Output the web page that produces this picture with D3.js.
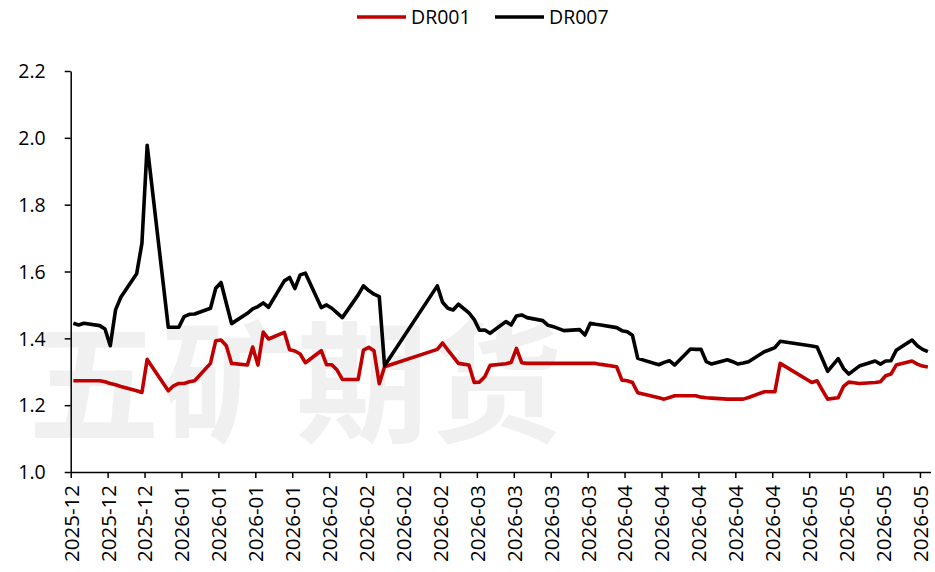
<!DOCTYPE html>
<html>
<head>
<meta charset="utf-8">
<script src="https://cdn.jsdelivr.net/npm/d3@7"></script>
<style>
  body { margin: 0; background: #fff; }
  text { font-family: "Open Sans", "Noto Sans", sans-serif; }
</style>
</head>
<body>
<div id="chartDiv"></div>
<script>
// trading days (DR001 / DR007 daily fixings)
var dates = [
  "2025-12-17","2025-12-18","2025-12-19","2025-12-22","2025-12-23","2025-12-24","2025-12-25","2025-12-26",
  "2025-12-29","2025-12-30","2025-12-31",
  "2026-01-04","2026-01-05","2026-01-06","2026-01-07","2026-01-08","2026-01-09",
  "2026-01-12","2026-01-13","2026-01-14","2026-01-15","2026-01-16",
  "2026-01-19","2026-01-20","2026-01-21","2026-01-22","2026-01-23",
  "2026-01-26","2026-01-27","2026-01-28","2026-01-29","2026-01-30",
  "2026-02-02","2026-02-03","2026-02-04","2026-02-05","2026-02-06",
  "2026-02-09","2026-02-10","2026-02-11","2026-02-12","2026-02-13","2026-02-14",
  "2026-02-24","2026-02-25","2026-02-26","2026-02-27","2026-02-28",
  "2026-03-02","2026-03-03","2026-03-04","2026-03-05","2026-03-06",
  "2026-03-09","2026-03-10","2026-03-11","2026-03-12","2026-03-13",
  "2026-03-16","2026-03-17","2026-03-18","2026-03-19","2026-03-20",
  "2026-03-23","2026-03-24","2026-03-25","2026-03-26","2026-03-27",
  "2026-03-30","2026-03-31","2026-04-01","2026-04-02","2026-04-03",
  "2026-04-07","2026-04-08","2026-04-09","2026-04-10",
  "2026-04-13","2026-04-14","2026-04-15","2026-04-16","2026-04-17",
  "2026-04-20","2026-04-21","2026-04-22","2026-04-23","2026-04-24",
  "2026-04-27","2026-04-28","2026-04-29","2026-04-30",
  "2026-05-06","2026-05-07","2026-05-08","2026-05-09",
  "2026-05-11","2026-05-12","2026-05-13","2026-05-14","2026-05-15",
  "2026-05-18","2026-05-19","2026-05-20","2026-05-21","2026-05-22",
  "2026-05-25","2026-05-26","2026-05-27","2026-05-28"
];

var dr001 = [
  1.273,1.273,1.273,1.273,1.270,1.265,1.261,1.256,
  1.243,1.238,1.337,
  1.243,1.258,1.265,1.265,1.270,1.273,
  1.325,1.393,1.395,1.378,1.325,
  1.320,1.374,1.320,1.419,1.398,
  1.418,1.366,1.362,1.353,1.327,
  1.363,1.321,1.321,1.305,1.277,
  1.277,1.365,1.373,1.363,1.264,1.315,
  1.367,1.386,1.365,1.345,1.325,
  1.320,1.268,1.269,1.285,1.319,
  1.324,1.328,1.370,1.327,1.325,
  1.325,1.325,1.325,1.325,1.325,
  1.325,1.325,1.325,1.325,1.322,
  1.315,1.275,1.273,1.268,1.237,
  1.222,1.218,1.223,1.228,
  1.228,1.228,1.224,1.222,1.221,
  1.218,1.218,1.218,1.218,1.223,
  1.240,1.240,1.240,1.325,
  1.268,1.273,1.245,1.218,
  1.222,1.256,1.269,1.267,1.265,
  1.268,1.270,1.288,1.293,1.320,
  1.332,1.323,1.317,1.314
];

var dr007 = [
  1.445,1.440,1.445,1.438,1.428,1.378,1.485,1.523,
  1.593,1.684,1.978,
  1.433,1.433,1.433,1.465,1.472,1.473,
  1.490,1.550,1.567,1.505,1.444,
  1.475,1.488,1.495,1.506,1.493,
  1.572,1.582,1.549,1.590,1.595,
  1.492,1.500,1.490,1.476,1.462,
  1.530,1.557,1.543,1.532,1.525,1.318,
  1.557,1.508,1.490,1.485,1.502,
  1.476,1.456,1.424,1.425,1.415,
  1.450,1.440,1.467,1.470,1.462,
  1.453,1.439,1.435,1.429,1.423,
  1.426,1.410,1.445,1.442,1.440,
  1.432,1.423,1.420,1.409,1.340,
  1.321,1.328,1.333,1.320,
  1.368,1.367,1.367,1.330,1.323,
  1.336,1.330,1.323,1.326,1.330,
  1.360,1.366,1.372,1.391,
  1.377,1.374,1.338,1.301,
  1.339,1.310,1.293,1.305,1.317,
  1.332,1.323,1.332,1.333,1.364,
  1.395,1.378,1.367,1.360
];

var seriesNames = ["DR001", "DR007"];
var seriesColors = ["#C00000", "#000000"];
var yTicks = [1.0, 1.2, 1.4, 1.6, 1.8, 2.0, 2.2];
var axisStart = "2025-12-17", axisEnd = "2026-05-29";

var parseDate = d3.timeParse("%Y-%m-%d");

var svg = d3.select("#chartDiv").append("svg")
    .attr("width", 935)
    .attr("height", 572);

var margin = {top: 71, right: 4.5, bottom: 100, left: 70.7};
var width = 935 - margin.left - margin.right,
    height = 572 - margin.top - margin.bottom;

// watermark
svg.append("text")
    .attr("x", 28)
    .attr("y", 432)
    .style("font-family", "'Noto Sans CJK SC', sans-serif")
    .style("font-weight", "bold")
    .style("font-size", "132px")
    .style("letter-spacing", "2px")
    .attr("fill", "#f0f0f0")
    .text("五矿期货");

var chart = svg.append("g").attr("transform", "translate(" + margin.left + "," + margin.top + ")");

var x_scale = d3.scaleTime()
    .domain([parseDate(axisStart), parseDate(axisEnd)])
    .range([0, width]);

var y_scale = d3.scaleLinear()
    .domain([1.0, 2.2])
    .range([height, 0]);

// weekly ticks from the first day, Excel style
var xTicks = d3.range(24).map(function(i) { return d3.timeDay.offset(parseDate(axisStart), 7 * i); });

var xAxis = d3.axisBottom(x_scale)
    .tickValues(xTicks)
    .tickFormat(d3.timeFormat("%Y-%m"))
    .tickSize(6)
    .tickSizeOuter(0);

var yAxis = d3.axisLeft(y_scale)
    .tickValues(yTicks)
    .tickFormat(d3.format(".1f"))
    .tickSize(6)
    .tickSizeOuter(0)
    .tickPadding(19);

var yGroup = chart.append("g").call(yAxis);
yGroup.selectAll("text").style("font-size", "19.5px").attr("fill", "#000").attr("dy", "0.35em");

var xGroup = chart.append("g")
    .attr("transform", "translate(0," + height + ")")
    .call(xAxis);
xGroup.selectAll("text")
    .style("font-size", "20.5px")
    .attr("fill", "#000")
    .attr("text-anchor", "end")
    .attr("transform", "rotate(-90)")
    .attr("x", -13)
    .attr("y", 0)
    .attr("dy", "0.36em");

chart.selectAll(".domain").attr("stroke", "#000").attr("stroke-width", 1.5);
chart.selectAll(".tick line").attr("stroke", "#000").attr("stroke-width", 1.5);

// half a day offset: points sit between tick marks
var rows = dates.map(function(d, i) {
  return {date: d3.timeHour.offset(parseDate(d), 12), v1: dr001[i], v7: dr007[i]};
});

var line001 = d3.line()
    .x(function(d) { return x_scale(d.date); })
    .y(function(d) { return y_scale(d.v1); });

var line007 = d3.line()
    .x(function(d) { return x_scale(d.date); })
    .y(function(d) { return y_scale(d.v7); });

chart.append("path")
    .datum(rows)
    .attr("fill", "none")
    .attr("stroke", seriesColors[0])
    .attr("stroke-width", 3.6)
    .attr("stroke-linejoin", "round")
    .attr("d", line001);

chart.append("path")
    .datum(rows)
    .attr("fill", "none")
    .attr("stroke", seriesColors[1])
    .attr("stroke-width", 3.6)
    .attr("stroke-linejoin", "round")
    .attr("d", line007);

// legend
var legend = svg.append("g").attr("transform", "translate(357,17)");
var items = legend.selectAll("g").data(seriesNames).enter().append("g")
    .attr("transform", function(d, i) { return "translate(" + (i * 138) + ",0)"; });
items.append("line")
    .attr("x1", 0).attr("x2", 49)
    .attr("stroke", function(d, i) { return seriesColors[i]; })
    .attr("stroke-width", 3.5);
items.append("text")
    .attr("x", 54)
    .attr("dy", "0.36em")
    .style("font-size", "19.5px")
    .text(function(d) { return d; });
</script>
</body>
</html>
